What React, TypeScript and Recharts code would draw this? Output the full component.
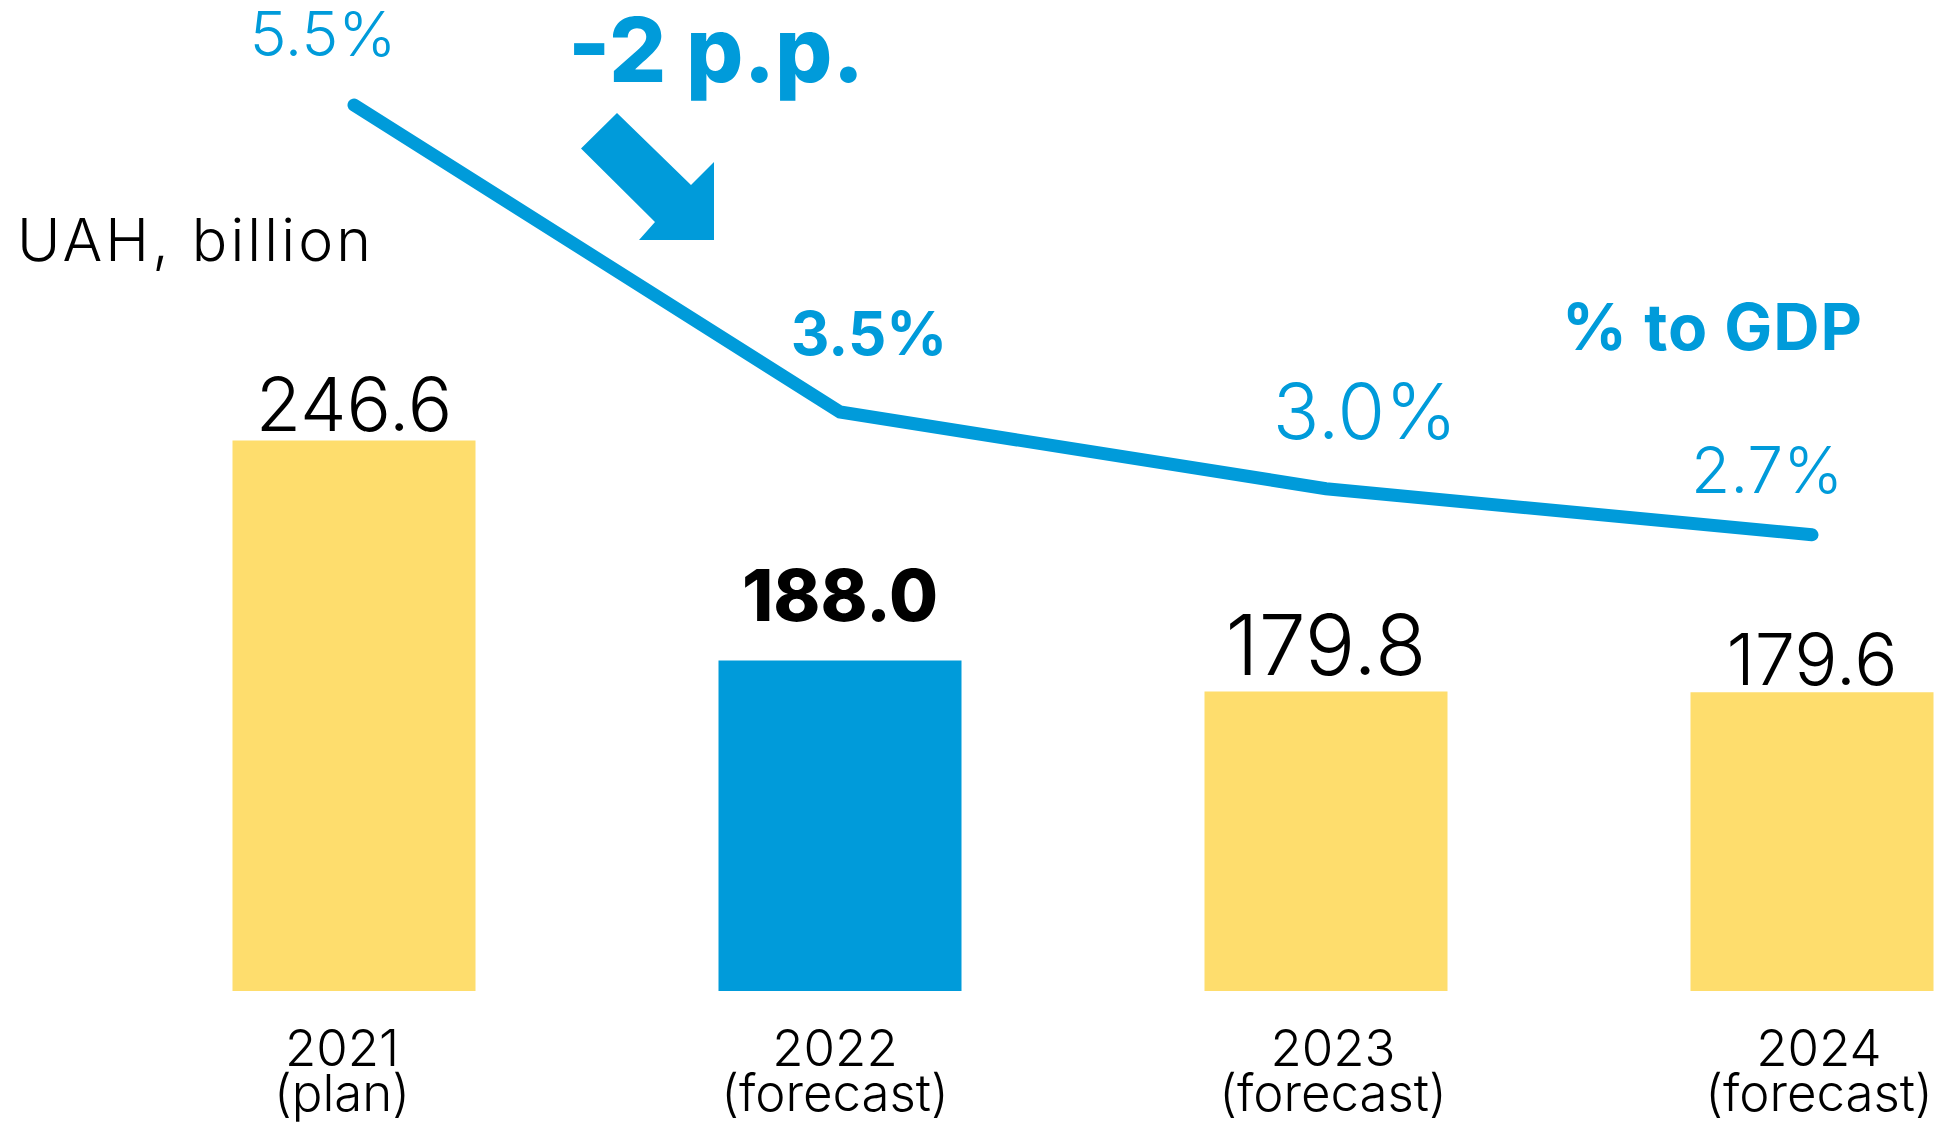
import React from 'react';
import { ComposedChart, Bar, Line, XAxis, YAxis, Cell, LabelList } from 'recharts';

const categories = ['2021', '2022', '2023', '2024'];
const periodNotes = ['(plan)', '(forecast)', '(forecast)', '(forecast)'];
const spending = [246.6, 188.0, 179.8, 179.6];
const gdpShare = [5.5, 3.5, 3.0, 2.7];
const highlighted = [false, true, false, false];

const data = categories.map((year, i) => ({
  year,
  note: periodNotes[i],
  spending: spending[i],
  gdp: gdpShare[i],
}));

const BLUE = '#009BDA';
const YELLOW = '#FEDD6D';
const FONT = 'Inter, "Open Sans", sans-serif';

const barLabelStyle = [
  { dy: -10, size: 74, weight: 300 },
  { dy: -40, size: 71, weight: 800 },
  { dy: -16, size: 84, weight: 300 },
  { dy: -7, size: 72, weight: 300 },
];
const lineLabelStyle = [
  { dx: -31, dy: -49, size: 62, weight: 300 },
  { dx: 29, dy: -57, size: 60, weight: 700 },
  { dx: 39, dy: -50, size: 77, weight: 300 },
  { dx: -45, dy: -42, size: 64, weight: 300 },
];
const tickDx = [-12, -5, 7, 7];

const BarValueLabel = (props: any) => {
  const { x, y, width, value, index } = props;
  const s = barLabelStyle[index];
  return (
    <text x={x + width / 2} y={y + s.dy} textAnchor="middle" fontFamily={FONT} fontSize={s.size} fontWeight={s.weight} fill="#000">
      {Number(value).toFixed(1)}
    </text>
  );
};

const LineValueLabel = (props: any) => {
  const { x, y, value, index } = props;
  const s = lineLabelStyle[index];
  return (
    <text x={x + s.dx} y={y + s.dy} textAnchor="middle" fontFamily={FONT} fontSize={s.size} fontWeight={s.weight} fill={BLUE}>
      {Number(value).toFixed(1) + '%'}
    </text>
  );
};

const YearTick = (props: any) => {
  const { x, y, payload, index } = props;
  const dx = tickDx[index] ?? 0;
  return (
    <g>
      <text x={x + dx} y={y + 75} textAnchor="middle" fontFamily={FONT} fontSize={51} fontWeight={300} fill="#000">
        {payload.value}
      </text>
      <text x={x + dx} y={y + 120} textAnchor="middle" fontFamily={FONT} fontSize={51} fontWeight={300} fill="#000">
        {periodNotes[index]}
      </text>
    </g>
  );
};

export default function App() {
  return (
    <div style={{ position: 'absolute', left: 0, top: 0, width: 1939, height: 1124, overflow: 'hidden', background: '#fff' }}>
      <ComposedChart
        width={2060}
        height={1124}
        data={data}
        margin={{ top: 58, right: 5, left: 111, bottom: 0 }}
        barCategoryGap="25%"
      >
        <XAxis
          dataKey="year"
          height={133}
          axisLine={false}
          tickLine={false}
          tickSize={0}
          tickMargin={0}
          interval={0}
          tick={<YearTick />}
        />
        <YAxis yAxisId="left" hide width={0} domain={[100, 348.5]} allowDataOverflow />
        <YAxis yAxisId="right" orientation="right" hide width={0} domain={[-0.272, 5.806]} allowDataOverflow />
        <Bar yAxisId="left" dataKey="spending" isAnimationActive={false}>
          {data.map((d, i) => (
            <Cell key={d.year} fill={highlighted[i] ? BLUE : YELLOW} />
          ))}
          <LabelList dataKey="spending" content={<BarValueLabel />} />
        </Bar>
        <Line
          yAxisId="right"
          dataKey="gdp"
          stroke={BLUE}
          strokeWidth={13}
          strokeLinecap="round"
          dot={false}
          activeDot={false}
          isAnimationActive={false}
        >
          <LabelList dataKey="gdp" content={<LineValueLabel />} />
        </Line>
      </ComposedChart>
      <svg width={1939} height={1124} style={{ position: 'absolute', left: 0, top: 0, pointerEvents: 'none' }}>
        <text x={17} y={261} fontFamily={FONT} fontSize={59} fontWeight={300} fill="#000" textLength={354} lengthAdjust="spacing">UAH, billion</text>
        <text x={568} y={82} fontFamily={FONT} fontSize={90} fontWeight={800} fill={BLUE}>-2 p.p.</text>
        <text x={1562} y={350} fontFamily={FONT} fontSize={64} fontWeight={700} fill={BLUE} textLength={300} lengthAdjust="spacing">% to GDP</text>
        <polygon points="617,113 691,185 714,162 714,240 639,240 655,222 581,148.5" fill={BLUE} />
      </svg>
    </div>
  );
}
